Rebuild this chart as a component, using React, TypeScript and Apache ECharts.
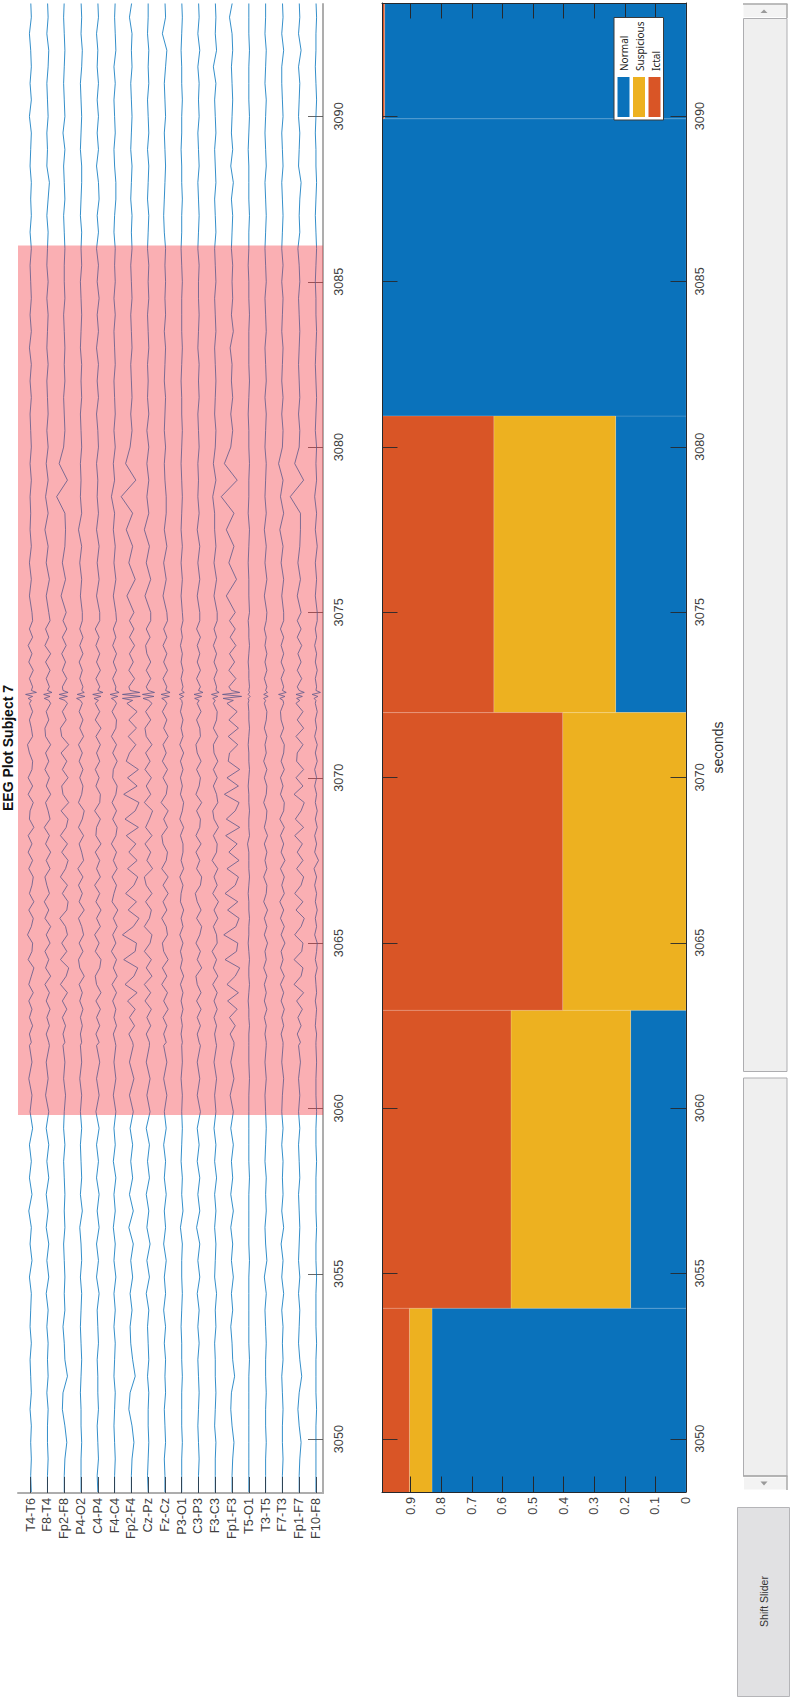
import React, { useEffect, useRef } from "react";
import * as echarts from "echarts";

const channels = ["T4-T6","F8-T4","Fp2-F8","P4-O2","C4-P4","F4-C4","Fp2-F4","Cz-Pz","Fz-Cz","P3-O1","C3-P3","F3-C3","Fp1-F3","T5-O1","T3-T5","F7-T3","Fp1-F7","F10-F8"];
const secondTicks = [3050,3055,3060,3065,3070,3075,3080,3085,3090];
const probTicks = [0,0.1,0.2,0.3,0.4,0.5,0.6,0.7,0.8,0.9];
const title = "EEG Plot Subject 7";
const highlight = [3059.8, 3086.1];

// window edges, seconds
const windows = [[3045,3053.95],[3053.95,3062.96],[3062.96,3071.96],[3071.96,3080.93],[3080.93,3089.92],[3089.92,3099]];
const normal = [0.83,0.181,0,0.23,1,0.985];
const suspicious = [0.074,0.391,0.403,0.398,0,0];
const ictal = [0.096,0.428,0.597,0.372,0,0.015];

// trace deflections; one row per channel
const lowStart = 3048.4, lowStep = 0.5;
const traceLow = [
[1,0,1,0,1,-1,1,0,-1,1,-1,0,1,-2,2,-1,1,-3,2,-2,1,-2,3,-1,2,-3,2,-2],
[0,0,1,0,0,1,-1,1,0,1,-1,1,-2,2,-1,2,-2,1,-2,2,-1,2,-2,2,-3,1,-2,3],
[0,0,1,4,1,-3,-2,5,1,0,-2,1,0,1,0,-1,1,0,1,0,-1,1,-1,0,2,-1,1,-2],
[0,0,0,1,0,0,-1,0,1,0,-1,0,1,-1,1,0,-2,2,-1,1,0,-1,1,-1,1,-2,1,-1],
[0,-1,1,0,-1,1,0,0,-1,1,0,-1,2,-2,1,-2,2,-1,2,-2,1,-2,2,-3,2,-2,3,-2],
[0,0,1,0,-1,0,1,-1,0,1,-1,1,-1,2,-1,1,-2,1,-1,2,-2,1,-1,2,-2,2,-1,2],
[0,0,1,4,1,-4,-2,6,2,-1,-2,1,-2,2,-1,3,-4,3,-3,2,-1,2,-2,3,-3,4,-3,3],
[0,-1,0,1,0,0,1,-1,1,0,-1,1,-3,2,-2,3,-2,1,-3,2,-1,2,-3,3,-2,3,-3,2],
[0,0,-1,1,0,-1,1,0,1,-1,1,-2,1,-1,2,-2,1,-1,2,-1,1,-2,2,-1,3,-2,3,-2],
[0,0,0,1,0,0,0,1,0,0,-1,0,1,0,0,1,-2,2,0,1,-1,0,1,0,1,-1,1,0],
[0,0,1,0,-1,0,1,0,-1,1,-1,1,-2,2,-1,2,-3,2,-1,2,-2,1,-2,3,-2,2,-2,3],
[0,0,0,1,-1,0,1,0,0,-1,1,0,2,-1,0,1,-1,1,-1,2,-1,1,-2,1,-1,2,-2,2],
[0,0,1,3,0,-2,-1,4,1,0,-2,1,-1,2,-1,1,-2,2,-2,1,-1,2,-2,2,-3,3,-2,3],
[0,0,0,0,0,0,0,0,1,0,0,0,0,0,1,0,0,0,0,1,0,0,0,0,0,1,0,0],
[0,0,0,1,0,0,1,0,0,1,0,-1,1,-2,2,0,-1,1,0,1,-1,0,1,0,-1,1,-1,1],
[0,0,1,0,0,1,0,-1,1,0,1,-1,2,-1,1,-2,2,-1,1,0,1,-1,1,-1,0,2,-1,1],
[0,0,1,3,0,-2,0,4,1,-1,0,1,-1,1,-1,0,1,0,-1,1,0,-1,1,-1,1,-1,2,-1],
[0,0,0,0,0,1,0,0,0,1,0,0,0,1,0,0,1,0,0,0,1,0,0,1,0,0,1,0],
];
const midStart = 3062, midStep = 0.25;
const traceMid = [
[1,-2,3,-2, 2,-3,4,-3, 1,5,-4,2, 3,-5,1,4, -3,5,-2,2, 4,-3,3,-4, 2,-4,5,-2, -1,4,-4,3, -4,2,3,-2, -5,3,1,-2, 3,-2,0,3, -2,4,-3,2, -4,3,-2,3],
[2,-2,3,-1, 4,-2,3,-4, 5,-3,2,-4, 4,-2,5,-4, 2,-5,3,-1, -4,4,-2,5, -3,3,-5,4, 1,-3,5,-2, 3,-4,2,-3, 5,-3,-4,2, -2,5,0,3, -2,4,-3,5, -4,2,-3,4],
[1,-2,2,-3, 4,-3,5,-6, 3,7,-6,4, -4,5,2,-7, 4,6,-3,5, -6,2,6,-4, 5,-6,3,6, -5,7,-2,-4, 6,-3,4,-5, 7,-4,-6,3, -3,5,0,-3, 4,-3,2,-4, 3,-3,4,-2],
[1,-1,2,-1, 3,-2,2,-3, 5,-2,-4,3, -3,4,1,-4, 5,-3,2,-4, 3,-5,4,1, -3,4,-4,2, 5,-4,1,3, -2,3,-3,2, -4,4,-2,3, -3,2,0,3, -2,2,-3,3, -2,3,-2,2],
[2,-3,3,-2, 4,-3,5,-2, -4,3,5,-4, 2,-5,4,-2, 5,-3,3,-5, 4,-2,3,-4, 5,-3,-2,4, -5,3,4,-3, 2,-4,3,-2, 4,-3,5,-4, 3,-4,0,3, -3,4,-2,3, -3,2,-4,3],
[1,-2,3,-1, 2,-3,3,-4, 4,-2,3,-5, 2,-3,4,-2, 5,-4,-1,3, -4,4,-2,3, -5,2,4,-3, 3,-4,2,4, -3,-2,4,-3, 3,-5,2,3, -4,3,0,2, -3,3,-2,3, -3,2,-2,3],
[2,-4,5,-3, 6,-6,9,-10, 4,10,-12,6, 8,-14,3,12, -5,8,-9,4, 10,-6,9,-4, 7,-8,11,-10, 6,12,-12,9, -6,11,-8,-3, 7,-5,8,-4, 9,-7,0,-4, 5,-4,3,-3, 5,-3,4,-3],
[2,-3,4,-2, 5,-5,4,-6, 6,-3,5,-6, 3,6,-6,2, 5,-4,6,-3, -6,7,-2,4, -5,6,-4,2, 7,-6,4,-3, 5,-5,3,-4, 6,-3,-5,4, -4,6,0,-3, 4,-3,4,-2, -4,3,-3,4],
[2,-2,3,-3, 5,-2,4,-5, 3,-4,5,-2, -4,4,2,-5, 3,-3,5,-3, 5,-5,2,4, -3,-5,4,-2, 5,-6,2,4, -3,4,-4,2, -3,5,-2,3, -4,3,0,3, -3,4,-2,3, -3,3,-2,4],
[1,-1,1,-1, 2,-1,2,-2, 3,-2,1,-2, 2,-3,2,-1, 3,-2,-1,2, -3,3,-1,2, 2,-2,3,-3, 1,3,-2,1, -2,2,-2,3, -3,2,-1,2, -2,1,0,2, -1,2,-1,1, -2,1,-1,2],
[1,-2,3,-2, 4,-3,4,-2, -4,5,-2,3, -4,2,5,-3, 4,-2,-5,3, 5,-3,2,-4, 4,-4,2,3, -3,5,-4,1, 3,-3,4,-2, -4,3,2,-3, 4,-2,0,3, -3,3,-2,2, -2,3,-3,2],
[1,-1,2,-2, 3,-2,3,-4, 4,-3,2,-5, 3,2,-3,4, -2,5,-4,3, -2,4,-5,2, 3,-3,5,-2, -4,4,2,-3, 3,-3,4,-2, -3,4,-3,2, 3,-3,0,2, -2,3,-2,2, -3,2,-2,3],
[3,-3,5,-4, 8,-7,10,-8, 5,12,-11,7, 9,-13,6,11, -7,9,-11,5, 10,-8,11,-5, 8,-10,12,-9, 5,11,-12,10, -8,12,-6,-4, 9,-6,10,-5, 8,-8,0,-5, 6,-5,4,-4, 6,-3,5,-4],
[0,0,1,0, 0,-1,0,1, 0,0,1,0, -1,0,0,1, 0,0,-1,0, 1,0,0,0, -2,1,0,0, 1,0,0,-1, 0,1,0,0, -1,0,1,0, 0,-1,0,1, 0,0,-1,0, 1,0,0,-1],
[1,-1,1,-2, 2,-2,1,-2, 2,-3,1,-1, 3,-2,2,-2, 3,-3,1,2, -3,2,-1,2, -2,3,-2,1, 2,-3,1,2, -2,2,-3,1, -1,2,-2,1, 2,-2,0,2, -2,2,-1,2, -1,1,-2,1],
[1,-2,2,-1, 3,-2,2,-3, 3,-3,1,-2, 4,-2,3,-3, 2,-4,3,-1, 3,-3,4,-2, 2,-3,3,-4, 2,3,-3,1, -3,3,-2,2, 3,-3,2,-2, -3,2,0,2, -2,3,-2,2, -2,2,-3,2],
[2,-3,3,-2, 5,-4,7,-8, 3,6,-8,4, 6,-7,3,8, -5,6,-7,3, 7,-4,6,-3, 5,-7,7,-6, 3,8,-8,6, -5,7,-4,-3, 6,-5,7,-3, 6,-5,0,-3, 4,-3,3,-2, 4,-3,3,-3],
[0,1,-1,0, 1,-1,1,0, -1,2,-1,1, 2,-2,1,-1, 2,-1,1,-2, 1,-3,4,-2, 1,-2,2,-1, 2,-1,1,-2, 1,-2,2,-1, 2,-2,1,-1, 2,-1,0,1, -1,2,-1,1, -2,1,-1,2],
];
const spikeTimes = [3072.34,3072.40,3072.46,3072.52,3072.58,3072.64];
const traceSpike = [
[1,-4,3,-8,9,1],[2,-5,4,-6,7,0],[1,-8,5,-8,6,-2],[-1,-7,6,-6,5,1],[1,-6,5,-8,8,0],[0,-5,5,-7,7,1],
[2,-14,14,-14,13,-2],[1,-8,9,-9,10,0],[0,-5,7,-6,8,1],[0,-3,3,-4,4,0],[1,-6,5,-7,7,0],[0,-4,4,-6,6,1],
[2,-14,15,-15,12,-1],[0,-1,2,-1,1,0],[0,-3,4,-3,3,0],[1,-4,4,-6,6,0],[1,-4,5,-5,8,0],[0,-3,3,-6,7,0],
];
const highStart = 3075, highStep = 0.5;
const traceHigh = [
[2,-2,1,-2,1,-1,0,-1,1,-1,1,0,-1,1,-1,1,-2,1,-1,1,0,-1,1,-1,1,0,1,-1,0,1,-2,1,-1,1,0,-2,1,0],
[2,-2,3,-2,1,-4,1,-3,1,-2,1,-1,1,0,-1,1,-1,0,1,-1,1,-1,0,1,-1,1,3,-1,0,-1,1,0,-1,1,2,-1,1,0],
[3,-5,2,-3,1,2,1,-12,5,-8,-1,1,0,-1,1,0,1,0,-1,1,0,0,1,0,-1,1,0,-1,1,-2,1,0,-1,0,1,0,-1,0],
[2,-1,1,-2,1,-4,1,-1,0,-1,1,0,-1,1,0,1,-1,0,1,0,-1,1,0,1,-1,0,1,1,-1,0,1,0,-1,1,2,0,1,0],
[3,-2,2,-1,2,-2,1,-1,0,-2,1,0,-2,1,-1,1,-2,1,-1,2,-1,1,-2,1,-1,2,1,-2,1,-1,1,-1,1,-1,0,-2,1,0],
[2,-2,2,-1,1,-2,0,-5,0,-2,1,-1,1,0,-1,1,0,-1,1,-1,1,0,1,-1,0,2,2,0,-1,1,0,-1,1,-1,2,1,0,1],
[4,-7,6,-4,2,-8,2,-16,7,-9,-2,1,-1,1,0,-1,1,0,-1,1,0,-1,1,0,1,-1,0,1,-1,0,1,0,-1,1,0,1,-3,1],
[4,-5,4,-3,2,-6,1,-2,1,-2,1,-2,1,-1,0,-1,1,0,-1,1,0,1,-1,0,1,-1,0,1,-1,1,0,-1,1,0,1,-1,0,0],
[3,-3,2,-2,3,-1,2,2,0,-1,1,-1,0,1,-1,0,1,-1,1,0,1,0,1,-1,-2,-1,0,1,0,-1,1,0,-1,1,3,-4,1,0],
[1,-1,1,-1,1,-1,0,1,0,-1,0,1,0,0,-1,0,1,0,0,0,1,0,-1,0,0,1,0,0,-1,0,0,1,0,0,-1,0,1,0],
[2,-2,2,-1,2,-2,1,-1,0,-1,1,0,-1,1,0,1,-1,0,1,0,0,1,-1,0,1,0,-1,1,0,-1,1,0,1,-1,2,-1,1,0],
[3,-2,2,-2,1,-1,-1,-4,1,-3,0,1,-1,0,1,0,-1,1,0,-1,1,0,-1,1,0,-1,1,0,-1,1,0,-1,1,-3,2,0,1,0],
[5,-9,7,-5,3,-9,3,-17,8,-12,-2,1,-2,1,-1,0,-3,2,-1,1,0,1,-1,0,1,-1,2,-2,1,-1,0,1,0,-1,1,0,-4,1],
[1,0,0,-1,0,1,-1,0,0,1,0,0,-1,0,1,0,0,0,1,0,0,-1,0,0,1,0,0,0,-1,0,1,0,0,0,1,0,0,0],
[2,-2,2,-1,1,-2,1,-1,0,1,-1,0,1,-1,1,0,-1,1,0,-1,1,0,-1,0,1,0,-1,1,0,-1,0,1,-1,0,1,-1,0,0],
[2,-1,2,-2,1,-4,2,-3,1,-6,0,1,-1,1,-1,0,1,-1,0,1,-1,1,-1,0,1,0,-1,1,0,-1,1,0,-1,-1,2,-1,1,0],
[3,-3,2,-2,1,2,2,-14,7,-7,0,1,-1,1,0,-1,0,1,0,-1,1,0,-2,1,0,1,3,-1,0,1,-1,0,1,-1,3,-1,1,0],
[2,-1,1,-1,2,-1,1,-2,1,0,1,-1,0,1,0,-1,0,1,0,0,-1,0,1,0,-1,0,1,0,0,-1,0,1,0,-1,0,0,1,0],
];

const FONT = "'Liberation Sans', Arial, sans-serif";
const channelScale = 0.038; // channels per unit of deflection
const xMin = 0.243, xMax = 18.42;
const channelIdx = channels.map((_, i) => i + 1);

function tracePoints(c: number) {
  const pts: number[][] = [];
  const add = (t: number, v: number) => pts.push([c + 1 + v * channelScale, t]);
  traceLow[c].forEach((v, i) => add(lowStart + i * lowStep, v));
  traceMid[c].forEach((v, i) => {
    const t = midStart + i * midStep;
    if (t < spikeTimes[0]) add(t, v);
  });
  traceSpike[c].forEach((v, i) => add(spikeTimes[i], v));
  traceMid[c].forEach((v, i) => {
    const t = midStart + i * midStep;
    if (t > spikeTimes[5]) add(t, v);
  });
  traceHigh[c].forEach((v, i) => add(highStart + i * highStep, v));
  return pts;
}

function bandSeries(name: string, color: string, lo: number[], hi: number[]) {
  return {
    type: "custom", name, xAxisIndex: 1, yAxisIndex: 1, clip: true, silent: true, z: 2,
    encode: { x: [2, 3], y: [0, 1] },
    data: windows.map((w, i) => [w[0], w[1], lo[i], hi[i]]),
    renderItem: (_: any, api: any) => {
      const a = api.coord([api.value(2), api.value(0)]);
      const b = api.coord([api.value(3), api.value(1)]);
      return {
        type: "rect",
        shape: { x: Math.min(a[0], b[0]), y: Math.min(a[1], b[1]), width: Math.abs(a[0] - b[0]), height: Math.abs(a[1] - b[1]) },
        style: { fill: color, stroke: "rgba(255,255,255,0.18)", lineWidth: 0.8 },
      };
    },
  };
}

const LABEL = "#404040";
const DARK = "#26282c";
const cumNormal = normal;
const cumSusp = normal.map((v, i) => v + suspicious[i]);
const cumIctal = cumSusp.map((v, i) => v + ictal[i]);

const BLUE = "#0a72bb", YEL = "#edb120", RED = "#d95526";

function sideText(text: string, x: number, y: number, font: string, align: string, fill = "#222") {
  return { type: "text", x, y, rotation: Math.PI / 2, z: 100, style: { text, font, fill, align, verticalAlign: "middle" } };
}
function box(x: number, y: number, w: number, h: number, fill: string, stroke?: string) {
  return { type: "rect", z: 100, shape: { x, y, width: w, height: h }, style: { fill, stroke: stroke || undefined, lineWidth: 1 } };
}

export default function App() {
  const ref = useRef<HTMLDivElement>(null);
  useEffect(() => {
    const chart = echarts.init(ref.current!, undefined, { renderer: "svg" });
    const option: any = {
      animation: false,
      backgroundColor: "#fff",
      grid: [
        { left: 18, top: 4, width: 305, height: 1489 },
        { left: 382, top: 3, width: 304, height: 1489 },
      ],
      xAxis: [
        {
          type: "value", gridIndex: 0, position: "bottom", min: xMin, max: xMax, z: 6,
          splitLine: { show: false },
          axisLine: { show: true, onZero: false, lineStyle: { color: "#adadad", width: 2 } },
          axisTick: { show: true, inside: true, length: 16, customValues: channelIdx, lineStyle: { color: "#2a3a48", width: 0.9 } },
          axisLabel: { customValues: channelIdx, rotate: 90, margin: 5, color: LABEL, fontSize: 12.7, fontFamily: FONT, formatter: (v: number) => channels[v - 1] || "" },
        },
        {
          type: "value", gridIndex: 1, position: "bottom", inverse: true, min: 0, max: 0.9935, z: 6,
          splitLine: { show: false },
          axisLine: { show: true, onZero: false, lineStyle: { color: DARK, width: 1 } },
          axisTick: { show: true, inside: true, length: 15.5, customValues: probTicks, lineStyle: { color: DARK, width: 1 } },
          axisLabel: { customValues: probTicks, rotate: 90, margin: 5, color: LABEL, fontSize: 12.7, fontFamily: FONT, formatter: (v: number) => String(v) },
        },
        {
          type: "value", gridIndex: 1, position: "top", inverse: true, min: 0, max: 0.9935, z: 6,
          splitLine: { show: false },
          axisLine: { show: true, onZero: false, lineStyle: { color: DARK, width: 1 } },
          axisTick: { show: true, inside: true, length: 15.5, customValues: probTicks, lineStyle: { color: DARK, width: 1 } },
          axisLabel: { show: false },
        },
      ],
      yAxis: [
        {
          type: "value", gridIndex: 0, position: "right", min: 3048.37, max: 3093.4,
          splitLine: { show: false },
          axisLine: { show: true, onZero: false, lineStyle: { color: "#adadad", width: 2 } },
          axisTick: { show: true, inside: true, length: 15, customValues: secondTicks, lineStyle: { color: "#555", width: 0.9 } },
          axisLabel: { customValues: secondTicks, rotate: 90, margin: 9, color: LABEL, fontSize: 12.7, fontFamily: FONT, formatter: (v: number) => String(v) },
        },
        {
          type: "value", gridIndex: 1, position: "right", min: 3048.39, max: 3093.42, z: 6,
          name: "seconds", nameLocation: "middle", nameRotate: 90, nameGap: 32,
          nameTextStyle: { color: "#333", fontSize: 14, fontFamily: FONT, verticalAlign: "middle" },
          splitLine: { show: false },
          axisLine: { show: true, onZero: false, lineStyle: { color: DARK, width: 1 } },
          axisTick: { show: true, inside: true, length: 15.5, customValues: secondTicks, lineStyle: { color: DARK, width: 0.9 } },
          axisLabel: { customValues: secondTicks, rotate: 90, margin: 7, color: LABEL, fontSize: 12.7, fontFamily: FONT, formatter: (v: number) => String(v) },
        },
        {
          type: "value", gridIndex: 1, position: "left", min: 3048.39, max: 3093.42, z: 6,
          splitLine: { show: false },
          axisLine: { show: true, onZero: false, lineStyle: { color: DARK, width: 1 } },
          axisTick: { show: true, inside: true, length: 15.5, customValues: secondTicks, lineStyle: { color: DARK, width: 0.9 } },
          axisLabel: { show: false },
        },
      ],
      series: [
        ...channels.map((name, c) => ({
          type: "line", name, xAxisIndex: 0, yAxisIndex: 0, data: tracePoints(c), showSymbol: false, silent: true, z: 2,
          lineStyle: { color: "#0072bd", width: 0.8 },
        })),
        {
          type: "custom", name: "window", xAxisIndex: 0, yAxisIndex: 0, clip: true, silent: true, z: 5,
          encode: { x: [0, 1], y: [2, 3] },
          data: [[xMin, xMax, highlight[0], highlight[1]]],
          renderItem: (_: any, api: any) => {
            const a = api.coord([api.value(0), api.value(2)]);
            const b = api.coord([api.value(1), api.value(3)]);
            return {
              type: "rect",
              shape: { x: a[0], y: b[1], width: b[0] - a[0], height: a[1] - b[1] },
              style: { fill: "rgba(241,50,60,0.39)" },
            };
          },
        },
        bandSeries("Normal", BLUE, normal.map(() => 0), cumNormal),
        bandSeries("Suspicious", YEL, cumNormal, cumSusp),
        bandSeries("Ictal", RED, cumSusp, cumIctal),
      ],
      graphic: [
        sideText(title, 7.5, 748, `bold 14px ${FONT}`, "center", "#111"),
        // legend
        box(614, 17.5, 49.5, 102.5, "#fff", "#3a3a3a"),
        box(617.5, 77, 12, 40, BLUE),
        box(633, 77, 12, 40, YEL),
        box(648.5, 77, 12, 40, RED),
        sideText("Normal", 624, 71, "10px 'Noto Sans', sans-serif", "left"),
        sideText("Suspicious", 640, 71, "10px 'Noto Sans', sans-serif", "left"),
        sideText("Ictal", 655.5, 71, "10px 'Noto Sans', sans-serif", "left"),
        // scrollbar
        box(743.5, 18.5, 43.5, 1053, "#efefef", "#adadb0"),
        box(743.5, 1078, 43.5, 398, "#efefef", "#adadb0"),
        { type: "rect", z: 100, shape: { x: 743.5, y: 3.5, width: 43.5, height: 13.5 }, style: { fill: "#f3f3f3" } },
        { type: "line", z: 100, shape: { x1: 743, y1: 4, x2: 787.5, y2: 4 }, style: { stroke: "#a8a8a8", lineWidth: 1.5 } },
        { type: "line", z: 100, shape: { x1: 787, y1: 4, x2: 787, y2: 18 }, style: { stroke: "#a8a8a8", lineWidth: 1.5 } },
        { type: "polygon", z: 100, shape: { points: [[764, 9.5], [760.5, 13], [767.5, 13]] }, style: { fill: "#9a9a9a" } },
        { type: "rect", z: 100, shape: { x: 744, y: 1477.5, width: 43, height: 12 }, style: { fill: "#f3f3f3" } },
        { type: "line", z: 100, shape: { x1: 743, y1: 1476, x2: 787.5, y2: 1476 }, style: { stroke: "#a8a8a8", lineWidth: 1.5 } },
        { type: "line", z: 100, shape: { x1: 787, y1: 1476, x2: 787, y2: 1490 }, style: { stroke: "#a8a8a8", lineWidth: 1.5 } },
        { type: "polygon", z: 100, shape: { points: [[764, 1485.5], [760.5, 1481.5], [767.5, 1481.5]] }, style: { fill: "#9a9a9a" } },
        // button
        box(737.5, 1507.5, 52, 189, "#e1e1e3", "#b5b5b8"),
        sideText("Shift Slider", 764, 1601.5, `10.5px ${FONT}`, "center", "#333"),
      ],
    };
    chart.setOption(option);
    return () => chart.dispose();
  }, []);
  return <div ref={ref} style={{ position: "absolute", left: 0, top: 0, width: 791, height: 1699, background: "#fff" }} />;
}
